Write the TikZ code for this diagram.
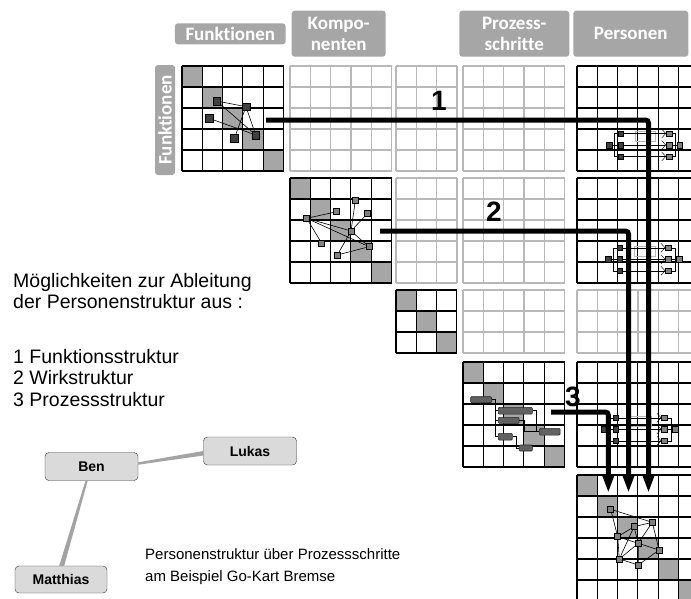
\documentclass[tikz,border=0pt]{standalone}
\usepackage{fontspec}
\setmainfont{Liberation Sans}
\newfontfamily\kopffont[Ligatures={NoCommon}]{Carlito}
\usetikzlibrary{calc,arrows.meta,positioning}

\definecolor{kopfgrau}{HTML}{A6A6A6}
\definecolor{zellgrau}{HTML}{A6A6A6}
\definecolor{hellgrau}{HTML}{B8B8B8}
\definecolor{knotdunkel}{HTML}{404040}
\definecolor{knotgrau}{HTML}{808080}
\definecolor{personfill}{HTML}{DADADA}
\definecolor{bandgrau}{HTML}{A3A3A3}

\tikzset{
  gitter/.style={black, line width=1.1},
  hellgitter/.style={hellgrau, line width=1.3},
  diag/.style={fill=zellgrau},
  kopf/.style={fill=kopfgrau, rounded corners=3, text=white, inner sep=0, align=center,
    font=\kopffont\bfseries\fontsize{19}{21}\selectfont},
  pk/.style={draw=black, line width=0.5, minimum size=6, inner sep=0, fill=knotgrau},
  dk/.style={pk, fill=knotdunkel, minimum size=7.5},
  kante/.style={black, line width=0.6},
  fein/.style={black, line width=0.45},
  hellfein/.style={gray!55, line width=0.45},
  balken/.style={draw=black!85, fill=black!62, rounded corners=1, inner sep=0, line width=0.6},
  pfad/.style={line width=5, rounded corners=3, -{Triangle[length=18pt,width=11pt]}},
  ziffer/.style={font=\bfseries\fontsize{28}{28}\selectfont, inner sep=0},
  person/.style={draw=black!80, fill=personfill, rounded corners=4, minimum width=93,
    minimum height=28, inner sep=0, font=\bfseries\fontsize{14}{14}\selectfont},
  band/.style={fill=bandgrau},
}

% #1 x, #2 y, #3 Spalten, #4 Zeilen, #5 Stil
\newcommand{\raster}[5]{%
  \foreach \i in {0,...,#3}
    \draw[#5] ({#1+\i*\zb},#2) -- ++(0,{#4*\zh});
  \foreach \j in {0,...,#4}
    \draw[#5] (#1,{#2+\j*\zh}) -- ++({#3*\zb},0);
}
\newcommand{\diagonale}[3]{%
  \foreach \k in {1,...,#3}
    \fill[diag] ({#1+(\k-1)*\zb},{#2+(\k-1)*\zh}) rectangle ++(\zb,\zh);
}
% kleines Personennetz: #1 Praefix, #2 x, #3 y
\newcommand{\faecher}[3]{%
  \begin{scope}[shift={(#2,#3)}, name prefix=#1-]
    \draw[hellfein] (26,-13.5) rectangle (46.5,-3.5);
    \node[pk, fill=knotdunkel, minimum size=5.5] (l) at (0,0) {};
    \node[pk, fill=knotdunkel, minimum size=5.5] (a1) at (11.5,-11.5) {};
    \node[pk, fill=knotdunkel, minimum size=5.5] (a2) at (11.5,0) {};
    \node[pk, fill=knotdunkel, minimum size=5.5] (a3) at (11.5,11.5) {};
    \node[pk, minimum size=5.5] (b1) at (60,-11.5) {};
    \node[pk, minimum size=5.5] (b2) at (60,0) {};
    \node[pk, minimum size=5.5] (b3) at (60,11.5) {};
    \node[pk, minimum size=5.5] (r) at (70.7,0) {};
    \draw[fein] (l) -- (a2);
    \draw[fein] (a1.west) -- ++(-3.5,0) |- (a3.west);
    \draw[fein] (b1.east) -- ++(3.5,0) |- (b3.east);
    \draw[fein] (b2) -- (r);
    \foreach \k in {1,2,3}
      \draw[fein, -{Straight Barb[length=4pt,width=9pt]}] (a\k) -- (b\k);
  \end{scope}}

\begin{document}
\begin{tikzpicture}[x=1pt, y=-1pt]
\def\zb{20.3};
\def\zh{21};
\useasboundingbox (0,0) rectangle (691,598);
\clip (0,0) rectangle (691,598);

\node[kopf, minimum width=110.7, minimum height=21] (hfkt) at (230.3,33.8) {Funktionen};
\node[kopf, minimum width=94, minimum height=46] (hkomp) at (338.7,33.7) {Kompo-\\nenten};
\node[kopf, minimum width=110, minimum height=46] (hproz) at (514.3,33.7) {Prozess-\\schritte};
\node[kopf, minimum width=115, minimum height=46] (hpers) at (630.8,33.7) {Personen};
\node[kopf, minimum width=110, minimum height=20, rotate=90] (vfkt) at (165,120) {Funktionen};

\diagonale{182}{66}{5}
\diagonale{290}{178}{5}
\diagonale{396}{290}{3}
\diagonale{463}{362}{5}
\diagonale{577}{475}{6}

\raster{182}{66}{5}{5}{gitter}
\raster{290}{66}{5}{5}{hellgitter}
\raster{396}{66}{3}{5}{hellgitter}
\raster{463}{66}{5}{5}{hellgitter}
\raster{577}{66}{6}{5}{gitter}
\raster{290}{178}{5}{5}{gitter}
\raster{396}{178}{3}{5}{hellgitter}
\raster{463}{178}{5}{5}{hellgitter}
\raster{577}{178}{6}{5}{gitter}
\raster{396}{290}{3}{3}{gitter}
\raster{463}{290}{5}{3}{hellgitter}
\raster{577}{290}{6}{3}{hellgitter}
\raster{463}{362}{5}{5}{gitter}
\raster{577}{362}{6}{5}{gitter}
\raster{577}{475}{6}{6}{gitter}

\node[dk] (f1) at (216.7,101) {};
\node[dk] (f2) at (246,106.7) {};
\node[dk] (f3) at (209,118.3) {};
\node[dk] (f4) at (234.3,138.3) {};
\node[dk] (f5) at (255.7,135) {};
\draw[kante] (f1) -- (f2) (f1) -- (f5) (f2) -- (f4) (f2) -- (f5) (f3) -- (f5);

\node[pk] (w1) at (306.7,218.3) {};
\node[pk] (w2) at (336.7,211.7) {};
\node[pk] (w3) at (355.3,200.7) {};
\node[pk] (w4) at (367.7,213.3) {};
\node[pk] (w5) at (351,231) {};
\node[pk] (w6) at (321.7,243.3) {};
\node[pk] (w7) at (369,246.7) {};
\node[pk] (w8) at (337.3,255) {};
\draw[kante] (w1) -- (w2) (w1) -- (w5) (w1) -- (w6) (w1) -- (w7) (w3) -- (w5)
  (w4) -- (w5) (w5) -- (w7) (w5) -- (w8) (w7) -- (w8);

\node[balken, minimum width=21, minimum height=6] (p1) at (481.2,399.7) {};
\node[balken, minimum width=34, minimum height=6.7] (p2) at (515.3,410.7) {};
\node[balken, minimum width=20.7, minimum height=6] (p3) at (508.7,420.3) {};
\node[balken, minimum width=14, minimum height=6.7] (p4) at (505.3,436.7) {};
\node[balken, minimum width=20.7, minimum height=6.7] (p5) at (549.7,431.7) {};
\node[balken, minimum width=13.3, minimum height=6] (p6) at (525.7,448) {};
\draw[fein] (p1.east) -- ++(3.5,0) |- (p4.west);
\draw[fein] (p2.west) -| ++(-3.5,0);
\draw[fein] (p3.west) -| ++(-3.5,0);
\draw[fein] (p2.east) -- ++(3.5,0) |- (p5.west);
\draw[fein] (p3.east) -- ++(5,0) |- (p5.west);
\draw[fein] (p4.east) -- ++(3.5,0) |- (p6.west);

\node[pk] (q1) at (610.7,509.3) {};
\node[pk] (q2) at (652.3,522.3) {};
\node[pk] (q3) at (634,526.7) {};
\node[pk] (q4) at (617.7,536.7) {};
\node[pk] (q5) at (638.3,543.3) {};
\node[pk] (q6) at (659,550) {};
\node[pk] (q7) at (619.3,559) {};
\node[pk] (q8) at (638.3,565) {};
\draw[kante] (q1) -- (q2) (q1) -- (q4) (q2) -- (q3) (q2) -- (q5) (q2) -- (q6)
  (q3) -- (q4) (q3) -- (q5) (q3) -- (q7) (q4) -- (q5) (q4) -- (q7) (q5) -- (q6)
  (q5) -- (q7) (q5) -- (q8) (q6) -- (q8) (q7) -- (q8);

\faecher{fa}{609}{145}
\faecher{fb}{608.3}{259.3}
\faecher{fc}{604.3}{429.3}

\coordinate (s1) at (266,120);
\coordinate (e1) at (648.5,493);
\coordinate (s2) at (380,231);
\coordinate (e2) at (628.5,493);
\coordinate (s3) at (551,412);
\coordinate (e3) at (608.3,493);
\draw[pfad] (s1) -| (e1);
\draw[pfad] (s2) -| (e2);
\draw[pfad] (s3) -| (e3);
\node[ziffer] (n1) at (439,101) {1};
\node[ziffer] (n2) at (494,212) {2};
\node[ziffer] (n3) at (573,397) {3};

\node[anchor=north west, align=left, inner sep=0, font=\fontsize{19.5}{21.5}\selectfont] (moegl) at (13,273)
  {Möglichkeiten zur Ableitung\\der Personenstruktur aus :\\[33pt]1 Funktionsstruktur\\2 Wirkstruktur\\3 Prozessstruktur};
\node[anchor=north west, align=left, inner sep=0, font=\fontsize{15}{22}\selectfont] (bsp) at (145,548)
  {Personenstruktur über Prozessschritte\\am Beispiel Go-Kart Bremse};

\node[person] (ben) at (91.5,466.5) {Ben};
\node[person] (lukas) at (250,451) {Lukas};
\node[person, minimum width=92, minimum height=27] (matthias) at (61,579.5) {Matthias};
\fill[band] ($(ben.east)+(0,-4.2)$) -- ($(lukas.west)+(0,0)$) -- ($(lukas.west)+(0,4.5)$) -- ($(ben.east)+(0,-1.8)$) -- cycle;
\fill[band] ($(ben.south)+(-6,0)$) -- ($(ben.south)+(-3.8,0)$) -- ($(matthias.north)+(3.2,0)$) -- ($(matthias.north)+(-1.8,0)$) -- cycle;
\end{tikzpicture}
\end{document}
